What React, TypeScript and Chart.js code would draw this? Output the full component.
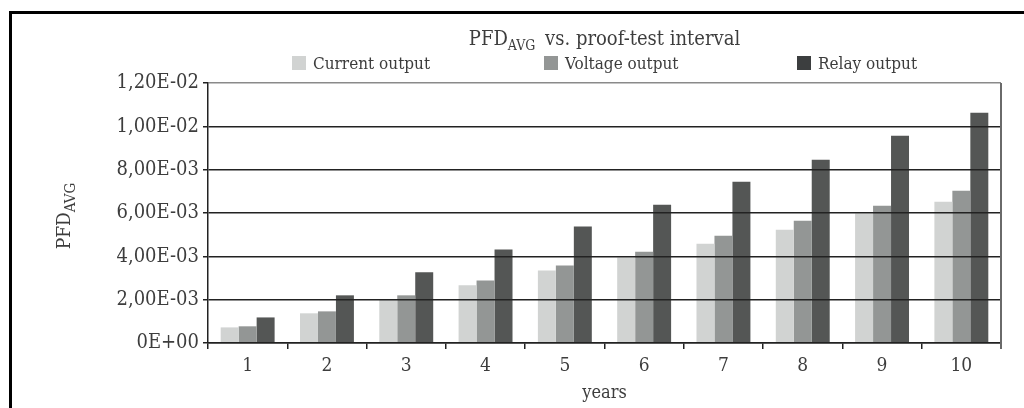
import React, { useEffect, useRef } from 'react';
import { Chart, registerables } from 'chart.js';

Chart.register(...registerables);

// ---------- data ----------
const categories = ['1', '2', '3', '4', '5', '6', '7', '8', '9', '10'];
const seriesNames = ['Current output', 'Voltage output', 'Relay output'];
const currentOutput = [7.2e-4, 1.37e-3, 2.0e-3, 2.66e-3, 3.35e-3, 3.95e-3, 4.58e-3, 5.23e-3, 5.98e-3, 6.52e-3];
const voltageOutput = [7.7e-4, 1.46e-3, 2.2e-3, 2.89e-3, 3.58e-3, 4.21e-3, 4.95e-3, 5.64e-3, 6.34e-3, 7.03e-3];
const relayOutput = [1.18e-3, 2.2e-3, 3.26e-3, 4.31e-3, 5.38e-3, 6.38e-3, 7.44e-3, 8.46e-3, 9.57e-3, 1.063e-2];
const yTickLabels = ['0E+00', '2,00E-03', '4,00E-03', '6,00E-03', '8,00E-03', '1,00E-02', '1,20E-02'];
const titleMain = 'PFD';
const titleSub = 'AVG';
const titleRest = ' vs. proof-test interval';
const yTitleMain = 'PFD';
const yTitleSub = 'AVG';
const xTitle = 'years';

// ---------- styles ----------
const FONT = "'DejaVu Serif Condensed', 'DejaVu Serif', serif";
const TEXT = '#3d3d3d';
const barColors = ['#d1d3d2', '#939695', '#545655'];
const legendColors = ['#d1d3d2', '#939695', '#3c3e3f'];
const legendX = [292, 544, 797];

function drawSubText(
  ctx: CanvasRenderingContext2D,
  cx: number,
  baseY: number,
  main: string,
  sub: string,
  rest: string,
  mainSize: number,
  subSize: number,
  gap: number,
) {
  ctx.font = `${mainSize}px ${FONT}`;
  const wMain = ctx.measureText(main).width;
  const wRest = rest ? ctx.measureText(rest).width : 0;
  ctx.font = `${subSize}px ${FONT}`;
  const wSub = ctx.measureText(sub).width;
  const total = wMain + wSub + (rest ? gap : 0) + wRest;
  let x = cx - total / 2;
  ctx.textAlign = 'left';
  ctx.textBaseline = 'alphabetic';
  ctx.font = `${mainSize}px ${FONT}`;
  ctx.fillText(main, x, baseY);
  x += wMain;
  ctx.font = `${subSize}px ${FONT}`;
  ctx.fillText(sub, x, baseY + 5);
  x += wSub + gap;
  if (rest) {
    ctx.font = `${mainSize}px ${FONT}`;
    ctx.fillText(rest, x, baseY);
  }
}

const decorPlugin = {
  id: 'decor',
  afterDraw(chart: any) {
    const ctx: CanvasRenderingContext2D = chart.ctx;
    const area = chart.chartArea;
    ctx.save();
    // outer frame (left and top)
    ctx.strokeStyle = '#000';
    ctx.lineWidth = 3;
    ctx.beginPath();
    ctx.moveTo(10.5, 408);
    ctx.lineTo(10.5, 12.5);
    ctx.lineTo(1024, 12.5);
    ctx.stroke();

    // right border of plot area
    ctx.strokeStyle = '#6a6a6a';
    ctx.lineWidth = 2;
    ctx.beginPath();
    ctx.moveTo(area.right, area.top);
    ctx.lineTo(area.right, area.bottom + 6);
    ctx.stroke();

    // title
    ctx.fillStyle = TEXT;
    drawSubText(ctx, (area.left + area.right) / 2, 45, titleMain, titleSub, titleRest, 20, 14, 4);

    // legend
    chart.data.datasets.forEach((ds: any, i: number) => {
      const x = legendX[i];
      ctx.fillStyle = legendColors[i];
      ctx.fillRect(x, 56, 14, 14);
      ctx.fillStyle = TEXT;
      ctx.font = `17px ${FONT}`;
      ctx.textAlign = 'left';
      ctx.textBaseline = 'alphabetic';
      ctx.fillText(ds.label, x + 21, 69);
    });

    // y-axis title (rotated)
    ctx.translate(70, (area.top + area.bottom) / 2 + 3);
    ctx.rotate(-Math.PI / 2);
    ctx.fillStyle = TEXT;
    drawSubText(ctx, 0, 0, yTitleMain, yTitleSub, '', 19, 15, 0);
    ctx.restore();
  },
};

export default function App() {
  const canvasRef = useRef<HTMLCanvasElement | null>(null);

  useEffect(() => {
    if (!canvasRef.current) return;
    const series = [currentOutput, voltageOutput, relayOutput];
    const chart = new Chart(canvasRef.current, {
      type: 'bar',
      data: {
        labels: categories,
        datasets: series.map((values, i) => ({
          label: seriesNames[i],
          data: values,
          backgroundColor: barColors[i],
          borderWidth: 0,
          categoryPercentage: 0.68,
          barPercentage: 1.0,
        })),
      },
      options: {
        responsive: false,
        animation: false,
        layout: { padding: { left: 0, right: 23, top: 83, bottom: 0 } },
        plugins: {
          legend: { display: false },
          title: { display: false },
          tooltip: { enabled: false },
        },
        scales: {
          x: {
            grid: {
              offset: true,
              drawOnChartArea: false,
              drawTicks: true,
              tickLength: 6,
              color: '#222',
              lineWidth: 1.5,
            },
            border: { display: true, color: '#222', width: 1.5, z: 1 },
            ticks: { font: { family: FONT, size: 19 }, color: TEXT, padding: 6 },
            title: {
              display: true,
              text: xTitle,
              font: { family: FONT, size: 18 },
              color: TEXT,
              padding: { top: 0, bottom: 4 },
            },
            afterFit: (s: any) => {
              s.height = 65;
            },
          },
          y: {
            min: 0,
            max: 0.012,
            ticks: {
              stepSize: 0.002,
              callback: (_v: any, i: number) => yTickLabels[i],
              font: { family: FONT, size: 20 },
              color: TEXT,
              padding: 4,
            },
            grid: {
              color: (c: any) => (c.index === yTickLabels.length - 1 ? '#8a8a8a' : '#222'),
              tickColor: '#222',
              lineWidth: 1.5,
              tickLength: 5,
              z: 1,
            },
            border: { color: '#222', width: 1.5, z: 1 },
            afterFit: (s: any) => {
              s.width = 208;
            },
          },
        },
      },
      plugins: [decorPlugin],
    });
    return () => chart.destroy();
  }, []);

  return (
    <div style={{ position: 'fixed', left: 0, top: 0, width: 1024, height: 408, background: '#fff' }}>
      <canvas ref={canvasRef} width={1024} height={408} style={{ display: 'block' }} />
    </div>
  );
}
